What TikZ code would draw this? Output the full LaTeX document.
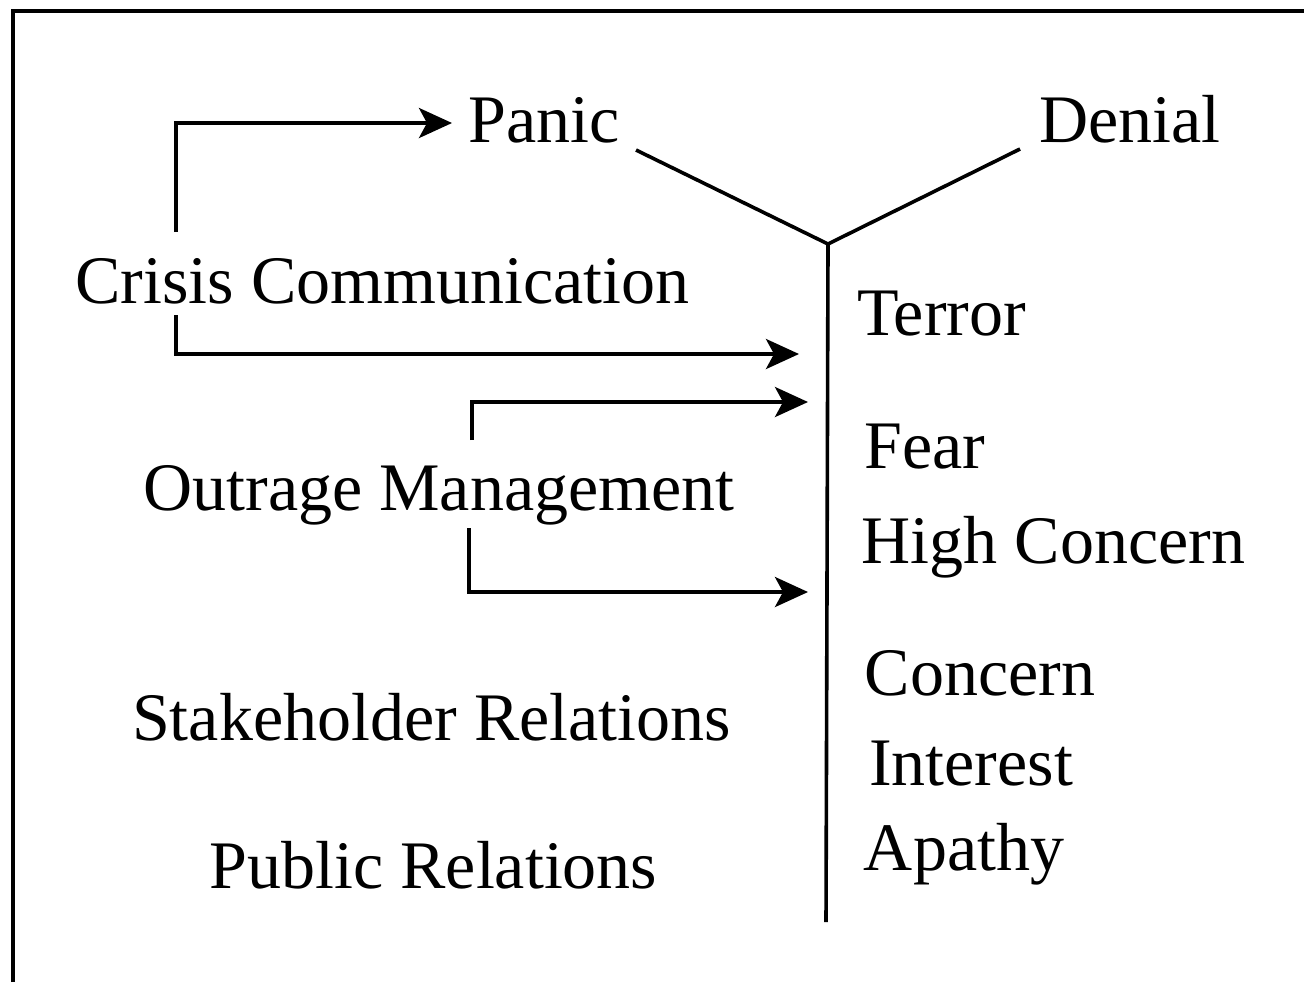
\documentclass[tikz,border=0pt]{standalone}
\usepackage{fontspec}
\setmainfont{Liberation Serif}
\usetikzlibrary{arrows.meta}
\begin{document}
\begin{tikzpicture}[x=0.5pt,y=-0.5pt,
  lbl/.style={inner sep=0pt,anchor=base,font=\fontsize{34}{40}\selectfont},
  ln/.style={line width=1.8pt},
  arr/.style={line width=1.9pt,-{Stealth[length=16.5pt,width=15pt,inset=4pt]}}]
\useasboundingbox (0,0) rectangle (1304,982);
\draw[line width=1.7pt] (13,982) -- (13,11) -- (1304,11);
% labels
\node[lbl] (panic) at (544,142) {Panic};
\node[lbl] (denial) at (1130,142) {Denial};
\node[lbl] (crisis) at (382.5,303) {Crisis Communication};
\node[lbl] (terror) at (941.5,335) {Terror};
\node[lbl] (fear) at (925,468) {Fear};
\node[lbl] (outrage) at (439,510) {Outrage Management};
\node[lbl] (high) at (1053.5,563) {High Concern};
\node[lbl] (concern) at (980,695) {Concern};
\node[lbl] (interest) at (971,785) {Interest};
\node[lbl] (apathy) at (964,870) {Apathy};
\node[lbl] (stake) at (431.5,740) {Stakeholder Relations};
\node[lbl] (public) at (433.5,888) {Public Relations};
% Y shape
\coordinate (pl) at (636,150);
\coordinate (dr) at (1020,149);
\coordinate (j) at (828,244);
\coordinate (b) at (826,922);
\draw[ln] (pl) -- (j) -- (dr);
\draw[ln] (j) -- (b);
% arrows
\coordinate (c1s) at (176,232);
\coordinate (c1t) at (452,123);
\coordinate (c2s) at (176,315);
\coordinate (c2t) at (799,354);
\coordinate (o1s) at (472,440);
\coordinate (o1t) at (808,402);
\coordinate (o2s) at (469,528);
\coordinate (o2t) at (808,592);
\draw[arr] (c1s) |- (c1t);
\draw[arr] (c2s) |- (c2t);
\draw[arr] (o1s) |- (o1t);
\draw[arr] (o2s) |- (o2t);
\end{tikzpicture}
\end{document}
